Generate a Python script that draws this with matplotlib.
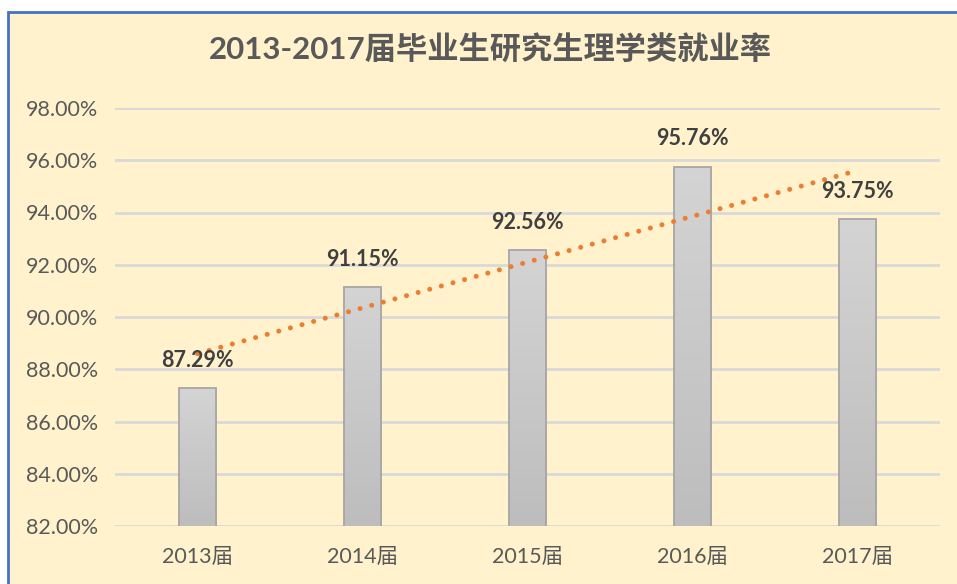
import matplotlib
matplotlib.use("Agg")
import matplotlib.pyplot as plt
import numpy as np
from matplotlib.patches import Rectangle
from matplotlib.colors import LinearSegmentedColormap

plt.rcParams['font.family'] = ['Lato', 'Noto Sans CJK SC', 'DejaVu Sans']

categories = ['2013届', '2014届', '2015届', '2016届', '2017届']
values = [87.29, 91.15, 92.56, 95.76, 93.75]
value_labels = ['87.29%', '91.15%', '92.56%', '95.76%', '93.75%']
yticks = [82, 84, 86, 88, 90, 92, 94, 96, 98]
ytick_labels = ['82.00%', '84.00%', '86.00%', '88.00%', '90.00%', '92.00%', '94.00%', '96.00%', '98.00%']
title = '2013-2017届毕业生研究生理学类就业率'

W, H = 957, 584
fig = plt.figure(figsize=(W / 100, H / 100), dpi=100)
fig.patch.set_facecolor('white')

bg = '#FFF2CC'
# chart area with blue border (extends past right/bottom edges)
fig.patches.append(Rectangle((8 / W, -0.05), 1.05, (H - 12) / H + 0.05,
                             transform=fig.transFigure, facecolor=bg,
                             edgecolor='#4472C4', linewidth=2, zorder=-10))

ax = fig.add_axes([115 / W, 58 / H, 825 / W, 418 / H])
ax.set_zorder(1)
ax.set_facecolor('none')
x = np.arange(len(categories))
bars = ax.bar(x, values, width=0.23, bottom=0, color='#C8C8C8',
              edgecolor='#A6A6A6', linewidth=1.3, zorder=3)

# gradient fill inside bars
grad = np.linspace(0, 1, 256).reshape(-1, 1)
cmap = LinearSegmentedColormap.from_list('g', ['#BDBDBD', '#D4D4D4'])
for b in bars:
    x0, w, h = b.get_x(), b.get_width(), b.get_height()
    im = ax.imshow(grad, extent=[x0, x0 + w, 82, h], origin='lower',
                   cmap=cmap, aspect='auto', zorder=3)
    im.set_clip_path(b)
    b.set_facecolor('none')
    b.set_zorder(4)

ax.set_ylim(82, 98)
ax.set_xlim(-0.5, len(categories) - 0.5)
ax.set_yticks(yticks)
ax.set_yticklabels(ytick_labels)
ax.set_xticks(x)
ax.set_xticklabels(categories)
ax.tick_params(axis='both', length=0, labelsize=15.5, labelcolor='#595959')
ax.tick_params(axis='y', pad=12)
ax.tick_params(axis='x', pad=15)
ax.grid(axis='y', color='#D9D9D9', linewidth=2, zorder=1)
ax.set_axisbelow(True)
for s in ax.spines.values():
    s.set_visible(False)

# linear trend line
coef = np.polyfit(x, values, 1)
trend = np.polyval(coef, x)
ax.plot(x, trend, color='#ED7D31', linewidth=3.6, linestyle=(0, (0.01, 2.4)),
        dash_capstyle='round', zorder=5)

for xi, v, lab in zip(x, values, value_labels):
    ax.annotate(lab, (xi, v), xytext=(0, 20), textcoords='offset points',
                ha='center', va='center', fontsize=15.5, fontweight='bold',
                color='#404040', zorder=6)

fig.text(490 / W, 1 - 50 / H, title, ha='center', va='center',
         fontsize=22.5, fontweight='bold', color='#595959')

fig.savefig('out.png', dpi=100, facecolor='white')
